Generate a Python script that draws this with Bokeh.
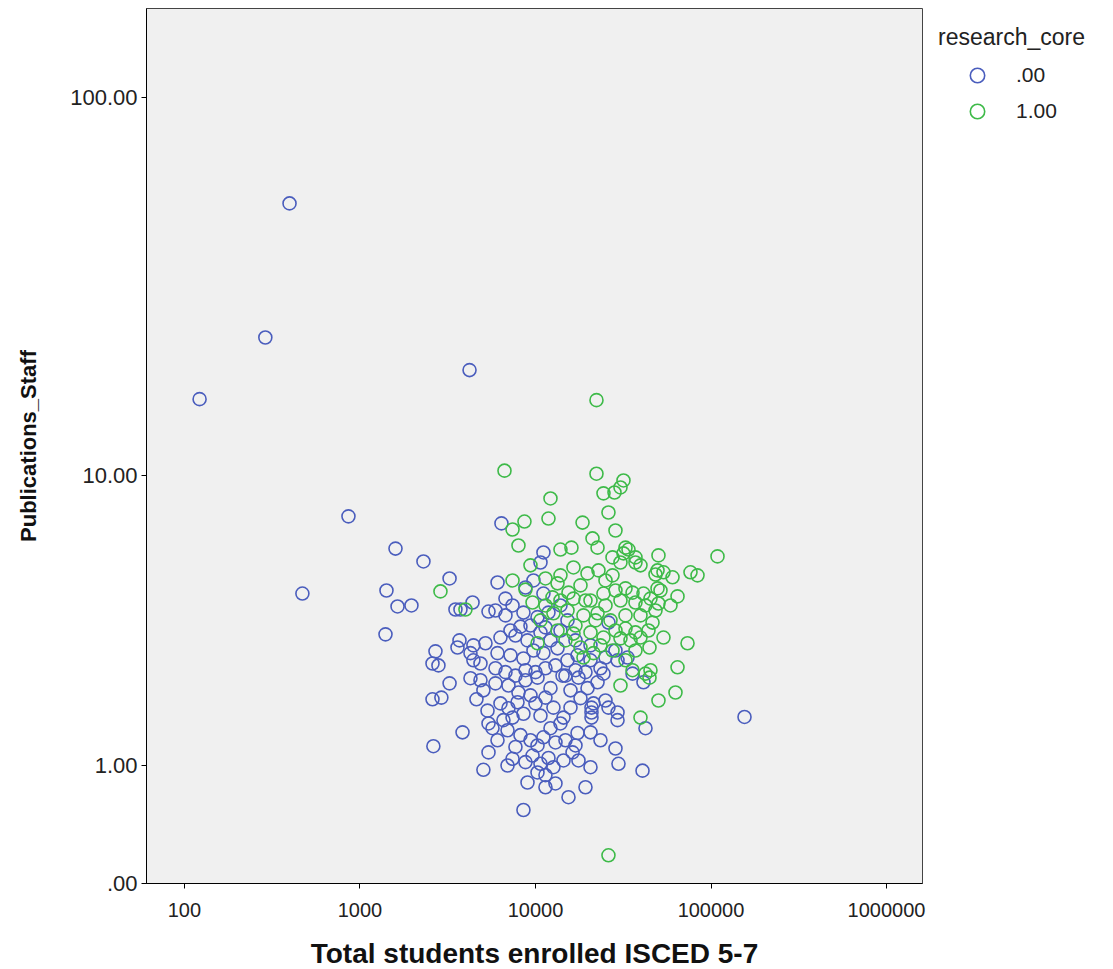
import numpy as np
from bokeh.plotting import figure
from bokeh.models import (Range1d, FixedTicker, CustomJSTickFormatter, CustomJSTransform,
                          Legend, LegendItem, ColumnDataSource)
from bokeh.transform import transform
from bokeh.embed import file_html
from bokeh.resources import INLINE

# ---- data ----
blue_students = [397, 289, 122, 4210, 860, 470, 1594, 2300, 3240, 1416,
                 1637, 1965, 1398, 3500, 3738, 4380, 5400, 3690, 3595, 4430,
                 5190, 4262, 4430, 2693, 2590, 2800, 4860, 3240, 2590, 2910,
                 4262, 4860, 4610, 5050, 3840, 2620, 5400, 5400, 5050, 6400,
                 11100,
                 6080, 8770, 9740, 6745, 11100, 10680, 5916, 6745, 8540, 10270,
                 7400, 11860, 15220, 7203, 8212, 9365, 11400, 6317, 7691, 9007,
                 12175, 10680, 13880, 6076, 7203, 8540, 9740, 11100, 13350, 15220,
                 23460, 26050, 28560, 33450, 29340, 35720, 41240, 26050, 29340, 29340,
                 28560, 29710, 40720, 42340, 155200,
                 5916, 6745, 7691, 8770, 10000, 11400, 13000, 14820, 16900, 19270,
                 5916, 7015, 8770, 10270, 14260, 17580, 19790, 22570, 24400, 12175,
                 8000, 15830,
                 6317, 7015, 7900, 7400, 6570, 8540, 10000, 11400, 12660, 14440,
                 13880, 15830, 18050, 20850, 20850, 20850, 21400, 9365, 10680, 25050,
                 5690, 6076, 7691, 9365, 10270, 11100, 13000, 14820, 17360, 16900,
                 20580, 23460, 6930, 12175, 8212,
                 7400, 8770, 9620, 10680, 11860, 12660, 14440, 16260, 17580, 20580,
                 10270, 11400, 6930,
                 9007, 11400, 13000, 15420, 19270, 8540,
                 17360, 20580, 25050, 13880, 16900, 20580, 5330]
blue_pubs = [53.3, 23.7, 16.2, 19.4, 7.64, 4.49, 6.15, 5.63, 5.0, 4.59,
             4.09, 4.12, 3.32, 4.0, 4.0, 4.21, 3.94, 3.17, 3.0, 3.05,
             3.10, 2.87, 2.71, 2.91, 2.64, 2.60, 2.64, 2.24, 1.95, 1.98,
             2.34, 2.30, 1.95, 2.11, 1.43, 1.24, 1.56, 1.16, 0.95, 7.29,
             5.99,
             4.86, 4.69, 4.93, 4.33, 4.49, 5.59, 3.97, 3.83, 3.91, 3.78,
             4.12, 3.91, 3.69, 3.42, 3.52, 3.55, 3.50, 3.24, 3.29, 3.17,
             3.17, 3.37, 3.42, 2.87, 2.82, 2.75, 2.93, 2.87, 2.98, 2.71,
             2.54, 3.63, 2.93, 2.77, 2.71, 2.43, 2.26, 1.81, 1.73, 1.61,
             1.21, 1.02, 0.94, 1.49, 1.66,
             2.54, 2.46, 2.39, 2.50, 2.46, 2.54, 2.60, 2.39, 2.50, 2.46,
             2.24, 2.20, 2.30, 2.35, 2.39, 2.35, 2.15, 2.26, 2.43, 2.15,
             2.07, 2.11,
             1.88, 1.80, 1.90, 1.65, 1.61, 1.71, 1.88, 1.98, 1.81, 1.65,
             1.56, 1.81, 1.97, 1.81, 1.73, 1.65, 1.88, 2.02, 1.68, 1.93,
             1.49, 1.32, 1.23, 1.32, 1.25, 1.36, 1.29, 1.32, 1.42, 1.25,
             1.43, 1.32, 1.46, 1.49, 1.39,
             1.08, 1.04, 1.12, 1.02, 1.09, 0.98, 1.06, 1.16, 1.06, 0.98,
             0.92, 0.89, 1.00,
             0.81, 0.76, 0.80, 0.66, 0.76, 0.54,
             2.82, 2.71, 2.77, 4.12, 3.17, 3.05, 1.76]

green_students = [22260, 6660, 22260, 31720, 30500, 28200, 24400, 12175, 26050, 18540,
                  11860, 8655, 7400, 28560, 8000, 13880, 16030, 21130, 22570, 32570,
                  33870, 31720, 37130, 50200, 108900, 27470, 2875, 3991, 9365, 16460,
                  22850, 19790, 30500, 37130, 49580, 53610, 48275, 76400, 83790, 60360,
                  7400, 8770, 13350, 15420, 9620, 12500, 16460, 20580, 24400, 28560,
                  32570, 35720, 41240, 45210, 49580, 64450, 30500, 37130, 42340, 48275,
                  58770, 50200, 12660, 15220, 18770, 22570, 39650, 46430, 13350, 16460,
                  20580, 24400, 10270, 28560, 32570, 37130, 30500, 34780, 39650, 53610,
                  73490, 44630, 18050, 21400, 18770, 64450, 45210, 42340, 44630, 62760,
                  50200, 39650, 26050, 11400, 18050, 25050, 21970, 26750, 14820, 23460,
                  27470, 32570, 35720, 30500, 11400, 13880, 32570, 19270, 16900, 39650,
                  27470, 13880, 10680, 44030, 25050, 37130, 51550]
green_pubs = [16.1, 10.3, 10.1, 9.67, 9.24, 8.94, 8.89, 8.60, 7.84, 7.33,
              7.53, 7.38, 7.00, 6.95, 6.28, 6.11, 6.19, 6.59, 6.19, 6.19,
              6.11, 5.95, 5.79, 5.87, 5.83, 5.79, 4.56, 4.0, 5.48, 5.40,
              5.29, 5.18, 5.59, 5.59, 5.29, 5.22, 5.14, 5.22, 5.11, 5.04,
              4.93, 4.62, 4.83, 4.52, 4.21, 4.37, 4.33, 4.27, 4.49, 4.59,
              4.66, 4.52, 4.49, 4.33, 4.66, 4.40, 4.27, 4.21, 4.12, 3.97,
              4.12, 4.18, 3.89, 3.97, 3.83, 3.89, 3.83, 3.63, 3.42, 3.34,
              3.37, 3.24, 3.10, 3.42, 3.47, 3.37, 3.22, 3.17, 3.24, 3.24,
              3.10, 3.00, 3.00, 2.87, 2.77, 2.56, 2.50, 2.43, 2.35, 2.07,
              1.93, 1.65, 0.18, 5.00, 4.76, 4.93, 3.69, 3.69, 3.17, 3.05,
              2.93, 2.71, 2.50, 2.20, 4.12, 4.27, 3.83, 4.27, 3.55, 5.48,
              5.11, 5.11, 3.69, 3.42, 4.12, 2.93, 4.59]

x_ticks = [100, 1000, 10000, 100000, 1000000]
y_tick_values = [0, 1, 10, 100]
group_labels = [".00", "1.00"]
legend_title = "research_core"
x_title = "Total students enrolled ISCED 5-7"
y_title = "Publications_Staff"

BLUE = "#4a5dbd"
GREEN = "#3dba48"
FONT = "Liberation Sans"

# SPSS "safe log" scale on the y axis: log10(1 + y)
safelog = CustomJSTransform(v_func="""
    const out = new Float64Array(xs.length);
    for (let i = 0; i < xs.length; i++) out[i] = Math.log10(1 + xs[i]);
    return out;
""")

p = figure(width=1100, height=969, frame_width=776, frame_height=875,
           x_axis_type="log", output_backend="svg", toolbar_location=None,
           min_border_left=146, min_border_right=178, min_border_top=8,
           min_border_bottom=86,
           x_range=Range1d(60.8, 1.603e6), y_range=Range1d(0, 2.232))

p.background_fill_color = "#f0f0f0"
p.border_fill_color = "white"
p.outline_line_color = "#444444"
p.outline_line_width = 1
p.grid.visible = False

src_b = ColumnDataSource(dict(students=blue_students, pubs=blue_pubs))
src_g = ColumnDataSource(dict(students=green_students, pubs=green_pubs))

rb = p.scatter(x="students", y=transform("pubs", safelog), source=src_b,
               size=13, marker="circle", fill_color=None,
               line_color=BLUE, line_width=1.6)
rg = p.scatter(x="students", y=transform("pubs", safelog), source=src_g,
               size=13, marker="circle", fill_color=None,
               line_color=GREEN, line_width=1.6)

# axes
p.xaxis.ticker = FixedTicker(ticks=x_ticks)
p.xaxis.formatter = CustomJSTickFormatter(code="return tick.toFixed(0);")
p.yaxis.ticker = FixedTicker(ticks=[float(np.log10(1 + v)) for v in y_tick_values])
p.yaxis.formatter = CustomJSTickFormatter(code="""
    let s = (Math.pow(10, tick) - 1).toFixed(2);
    if (s.startsWith("0.")) s = s.slice(1);
    if (s.startsWith("-0.")) s = s.slice(2);
    return s;
""")
for ax in (p.xaxis[0], p.yaxis[0]):
    ax.axis_line_color = "black"
    ax.axis_line_width = 1
    ax.major_tick_line_color = "black"
    ax.major_tick_out = 5
    ax.major_tick_in = 0
    ax.minor_tick_line_color = None
    ax.major_label_text_font = FONT
    ax.major_label_text_color = "#222222"
    ax.axis_label_text_font = FONT
    ax.axis_label_text_font_style = "bold"
    ax.axis_label_text_color = "#111111"

p.xaxis.axis_label = x_title
p.yaxis.axis_label = y_title
p.xaxis.major_label_text_font_size = "20px"
p.yaxis.major_label_text_font_size = "22px"
p.xaxis.axis_label_text_font_size = "28px"
p.yaxis.axis_label_text_font_size = "22px"
p.xaxis.major_label_standoff = 14
p.xaxis.axis_label_standoff = 18
p.yaxis.major_label_standoff = 4
p.yaxis.axis_label_standoff = 26

# legend (in the right-hand panel)
legend = Legend(items=[LegendItem(label=group_labels[0], renderers=[rb]),
                       LegendItem(label=group_labels[1], renderers=[rg])],
                title=legend_title, title_text_font=FONT, title_text_font_size="23px",
                title_text_font_style="normal", title_text_color="#222222",
                title_standoff=6, location="top_left", orientation="vertical",
                glyph_width=78, glyph_height=36, spacing=0, label_standoff=0,
                padding=0, margin=16, border_line_color=None,
                background_fill_alpha=0, label_text_font=FONT,
                label_text_font_size="21px", label_text_color="#222222")
p.add_layout(legend, "right")

open("out.html", "w").write(file_html(p, INLINE))
